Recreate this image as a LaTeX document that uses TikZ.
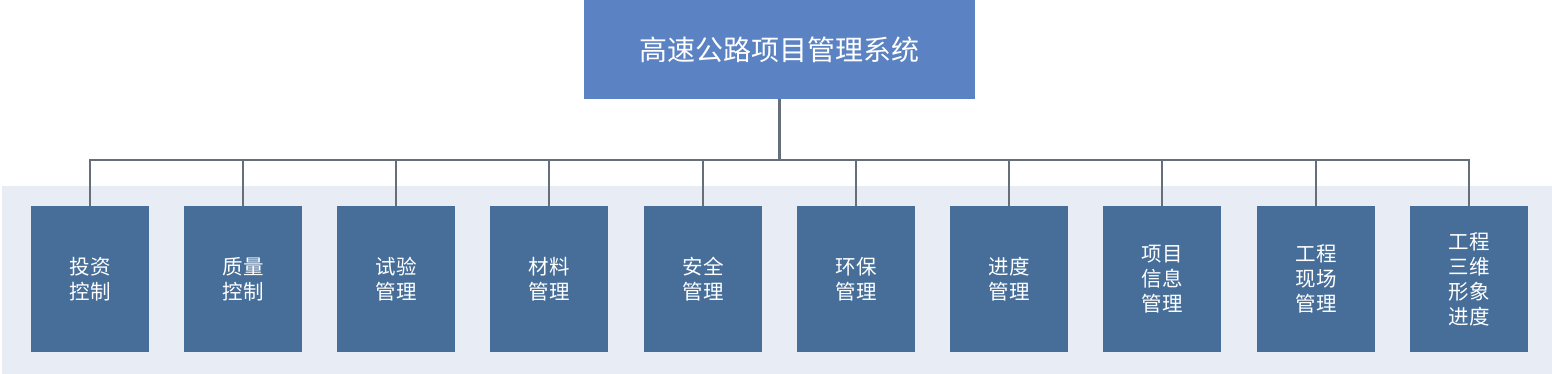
\documentclass[tikz,border=0pt]{standalone}
\usepackage{fontspec}
\newfontfamily\cjk{Noto Sans CJK SC}
\definecolor{topblue}{HTML}{5B82C2}
\definecolor{boxblue}{HTML}{466E99}
\definecolor{band}{HTML}{E8ECF4}
\definecolor{conn}{HTML}{666E7A}
\tikzset{
  topbox/.style={fill=topblue, minimum width=391pt, minimum height=99pt, inner sep=0pt, text=white, font=\cjk\fontsize{28}{34}\selectfont},
  subbox/.style={fill=boxblue, minimum width=118pt, minimum height=145pt, inner sep=0pt, text=white, align=center, font=\cjk\fontsize{20.5}{25}\selectfont},
  connline/.style={draw=conn, line width=2.8pt}
}
\begin{document}
\begin{tikzpicture}[x=1pt,y=-1pt]
\useasboundingbox (0,0) rectangle (1552,374);
\fill[band] (2,186) rectangle (1552,374);
\node[topbox] (top) at (779.5,49.5) {高速公路项目管理系统};
\coordinate (hub) at (779.5,160);
\foreach \i/\x/\t in {1/90/{投资\\控制},2/243/{质量\\控制},3/396/{试验\\管理},4/549/{材料\\管理},5/703/{安全\\管理},6/856/{环保\\管理},7/1009/{进度\\管理},8/1162/{项目\\信息\\管理},9/1316/{工程\\现场\\管理},10/1469/{工程\\三维\\形象\\进度}}{
  \node[subbox] (b\i) at (\x,279) {\t};
}
\draw[connline] (top.south) -- (hub);
\draw[connline, line join=miter] (b1.north) |- (hub) -| (b10.north);
\foreach \i in {2,...,9}{
  \draw[connline] (b\i.north) -- (b\i.north |- hub);
}
\end{tikzpicture}
\end{document}
